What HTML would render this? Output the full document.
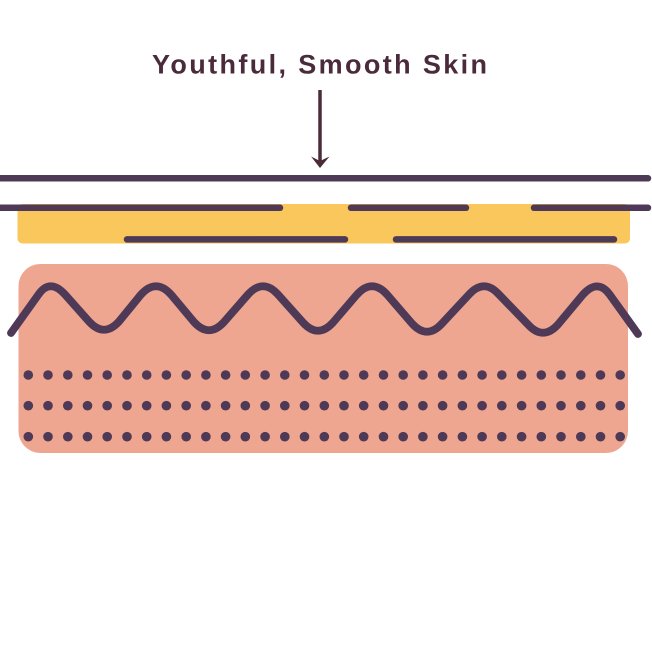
<!DOCTYPE html>
<html>
<head>
<meta charset="utf-8">
<style>
  html,body{margin:0;padding:0;background:#fff;}
  svg{display:block;}
</style>
</head>
<body>
<svg width="652" height="652" viewBox="0 0 652 652" xmlns="http://www.w3.org/2000/svg">
  <rect width="652" height="652" fill="#ffffff"/>
  <!-- Title -->
  <text x="152" y="73.5" textLength="335" lengthAdjust="spacing" font-family="Liberation Sans, sans-serif" font-weight="bold" font-size="27" fill="#4b2b3b">Youthful, Smooth Skin</text>
  <!-- Arrow -->
  <line x1="320" y1="90" x2="320" y2="162" stroke="#4b2a3a" stroke-width="3.5"/>
  <path d="M311 156.5 L320 168 L329.5 156.5 L320 161 Z" fill="#4b2a3a"/>

  <!-- top line -->
  <line x1="-5" y1="178.3" x2="648" y2="178.3" stroke="#4e3a57" stroke-width="6.5" stroke-linecap="round"/>
  <!-- yellow layer -->
  <rect x="17.5" y="204" width="612.5" height="39.5" rx="5" fill="#f9c75b"/>
  <!-- second row segments -->
  <line x1="-5" y1="207.8" x2="280" y2="207.8" stroke="#4e3a57" stroke-width="6.5" stroke-linecap="round"/>
  <line x1="351" y1="207.8" x2="466" y2="207.8" stroke="#4e3a57" stroke-width="6.5" stroke-linecap="round"/>
  <line x1="534" y1="207.8" x2="648" y2="207.8" stroke="#4e3a57" stroke-width="6.5" stroke-linecap="round"/>
  <!-- lower segments -->
  <line x1="127" y1="239.4" x2="345" y2="239.4" stroke="#4e3a57" stroke-width="6.5" stroke-linecap="round"/>
  <line x1="396" y1="239.4" x2="614" y2="239.4" stroke="#4e3a57" stroke-width="6.5" stroke-linecap="round"/>

  <!-- pink dermis -->
  <rect x="18.5" y="264" width="609.5" height="189" rx="22" fill="#eea690"/>

  <!-- wave -->
  <path d="M11 333 L38.5 294.5 Q50 278 65 294.5 L89 321.5 Q104 338 119 321.5 L141 294.5 Q156 278 171 294.5 L194 322 Q209 338.5 224 322 L248 294.5 Q263 278 278 294.5 L303 322.5 Q318 339 333 322.5 L357 294.5 Q372 278 387 294.5 L412 323.5 Q427 340 442 323.5 L469 294.5 Q484 278 499 294.5 L528 324.5 Q543 341 558 324.5 L583 294.5 Q598 278 610 295 L638 334"
        fill="none" stroke="#4e3a57" stroke-width="7.8" stroke-linecap="round" stroke-linejoin="round"/>

  <!-- dots -->
  <g fill="#4e3a57">
    <g>
      <circle cx="28.3" cy="375" r="4.8"/><circle cx="48.0" cy="375" r="4.8"/><circle cx="67.8" cy="375" r="4.8"/><circle cx="87.5" cy="375" r="4.8"/><circle cx="107.2" cy="375" r="4.8"/><circle cx="127.0" cy="375" r="4.8"/><circle cx="146.7" cy="375" r="4.8"/><circle cx="166.4" cy="375" r="4.8"/><circle cx="186.2" cy="375" r="4.8"/><circle cx="205.9" cy="375" r="4.8"/><circle cx="225.6" cy="375" r="4.8"/><circle cx="245.3" cy="375" r="4.8"/><circle cx="265.1" cy="375" r="4.8"/><circle cx="284.8" cy="375" r="4.8"/><circle cx="304.5" cy="375" r="4.8"/><circle cx="324.3" cy="375" r="4.8"/><circle cx="344.0" cy="375" r="4.8"/><circle cx="363.7" cy="375" r="4.8"/><circle cx="383.5" cy="375" r="4.8"/><circle cx="403.2" cy="375" r="4.8"/><circle cx="422.9" cy="375" r="4.8"/><circle cx="442.6" cy="375" r="4.8"/><circle cx="462.4" cy="375" r="4.8"/><circle cx="482.1" cy="375" r="4.8"/><circle cx="501.8" cy="375" r="4.8"/><circle cx="521.6" cy="375" r="4.8"/><circle cx="541.3" cy="375" r="4.8"/><circle cx="561.0" cy="375" r="4.8"/><circle cx="580.8" cy="375" r="4.8"/><circle cx="600.5" cy="375" r="4.8"/><circle cx="620.2" cy="375" r="4.8"/>
    </g>
    <g transform="translate(0,30.7)">
      <circle cx="28.3" cy="375" r="4.8"/><circle cx="48.0" cy="375" r="4.8"/><circle cx="67.8" cy="375" r="4.8"/><circle cx="87.5" cy="375" r="4.8"/><circle cx="107.2" cy="375" r="4.8"/><circle cx="127.0" cy="375" r="4.8"/><circle cx="146.7" cy="375" r="4.8"/><circle cx="166.4" cy="375" r="4.8"/><circle cx="186.2" cy="375" r="4.8"/><circle cx="205.9" cy="375" r="4.8"/><circle cx="225.6" cy="375" r="4.8"/><circle cx="245.3" cy="375" r="4.8"/><circle cx="265.1" cy="375" r="4.8"/><circle cx="284.8" cy="375" r="4.8"/><circle cx="304.5" cy="375" r="4.8"/><circle cx="324.3" cy="375" r="4.8"/><circle cx="344.0" cy="375" r="4.8"/><circle cx="363.7" cy="375" r="4.8"/><circle cx="383.5" cy="375" r="4.8"/><circle cx="403.2" cy="375" r="4.8"/><circle cx="422.9" cy="375" r="4.8"/><circle cx="442.6" cy="375" r="4.8"/><circle cx="462.4" cy="375" r="4.8"/><circle cx="482.1" cy="375" r="4.8"/><circle cx="501.8" cy="375" r="4.8"/><circle cx="521.6" cy="375" r="4.8"/><circle cx="541.3" cy="375" r="4.8"/><circle cx="561.0" cy="375" r="4.8"/><circle cx="580.8" cy="375" r="4.8"/><circle cx="600.5" cy="375" r="4.8"/><circle cx="620.2" cy="375" r="4.8"/>
    </g>
    <g transform="translate(0,61.7)">
      <circle cx="28.3" cy="375" r="4.8"/><circle cx="48.0" cy="375" r="4.8"/><circle cx="67.8" cy="375" r="4.8"/><circle cx="87.5" cy="375" r="4.8"/><circle cx="107.2" cy="375" r="4.8"/><circle cx="127.0" cy="375" r="4.8"/><circle cx="146.7" cy="375" r="4.8"/><circle cx="166.4" cy="375" r="4.8"/><circle cx="186.2" cy="375" r="4.8"/><circle cx="205.9" cy="375" r="4.8"/><circle cx="225.6" cy="375" r="4.8"/><circle cx="245.3" cy="375" r="4.8"/><circle cx="265.1" cy="375" r="4.8"/><circle cx="284.8" cy="375" r="4.8"/><circle cx="304.5" cy="375" r="4.8"/><circle cx="324.3" cy="375" r="4.8"/><circle cx="344.0" cy="375" r="4.8"/><circle cx="363.7" cy="375" r="4.8"/><circle cx="383.5" cy="375" r="4.8"/><circle cx="403.2" cy="375" r="4.8"/><circle cx="422.9" cy="375" r="4.8"/><circle cx="442.6" cy="375" r="4.8"/><circle cx="462.4" cy="375" r="4.8"/><circle cx="482.1" cy="375" r="4.8"/><circle cx="501.8" cy="375" r="4.8"/><circle cx="521.6" cy="375" r="4.8"/><circle cx="541.3" cy="375" r="4.8"/><circle cx="561.0" cy="375" r="4.8"/><circle cx="580.8" cy="375" r="4.8"/><circle cx="600.5" cy="375" r="4.8"/><circle cx="620.2" cy="375" r="4.8"/>
    </g>
  </g>
</svg>
</body>
</html>
